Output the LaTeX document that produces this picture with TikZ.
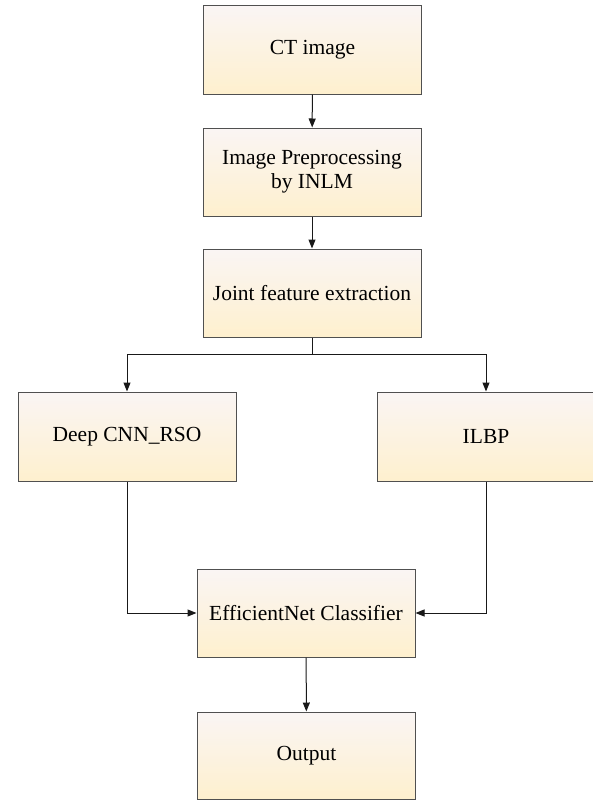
\documentclass[tikz,border=0pt]{standalone}
\usepackage{fontspec}
\setmainfont{Liberation Serif}
\newfontfamily\boxfont{Liberation Serif}
\usetikzlibrary{arrows.meta}
\definecolor{boxtop}{RGB}{250,245,244}
\definecolor{boxbot}{RGB}{254,240,206}
\definecolor{boxline}{RGB}{80,80,80}
\tikzset{
  flowbox/.style={rectangle, draw=boxline, line width=1pt, top color=boxtop, bottom color=boxbot,
    minimum width=218pt, minimum height=88pt, inner sep=0pt, align=center,
    font=\boxfont\fontsize{21.5}{24}\selectfont},
  conn/.style={line width=1pt, draw=black!90},
  arr/.style={conn, -{Triangle[length=9pt,width=7pt]}},
}
\begin{document}
\begin{tikzpicture}[x=1pt,y=-1pt]
\useasboundingbox (0,0) rectangle (592,800);
\node[flowbox] (ct) at (312.5,50) {CT image};
\node[flowbox] (pre) at (312,172) {Image Preprocessing\\by INLM};
\node[flowbox] (joint) at (312,293) {Joint feature extraction};
\node[flowbox, minimum height=89pt] (deep) at (127,436.5) {Deep CNN\_RSO};
\node[flowbox, minimum height=89pt] (ilbp) at (486,436.5) {ILBP};
\node[flowbox] (eff) at (306,613) {EfficientNet Classifier};
\node[flowbox, minimum height=87pt] (out) at (306.5,755.5) {Output};
\coordinate (split) at (312,354);
\draw[arr] (ct) -- (pre);
\draw[arr] (pre) -- (joint);
\draw[conn] (joint.south) -- (split);
\draw[arr] (split) -| (deep.north);
\draw[arr] (split) -| (ilbp.north);
\draw[arr] (deep.south) |- (eff.west);
\draw[arr] (ilbp.south) |- (eff.east);
\draw[arr] (eff) -- (out);
\end{tikzpicture}
\end{document}
